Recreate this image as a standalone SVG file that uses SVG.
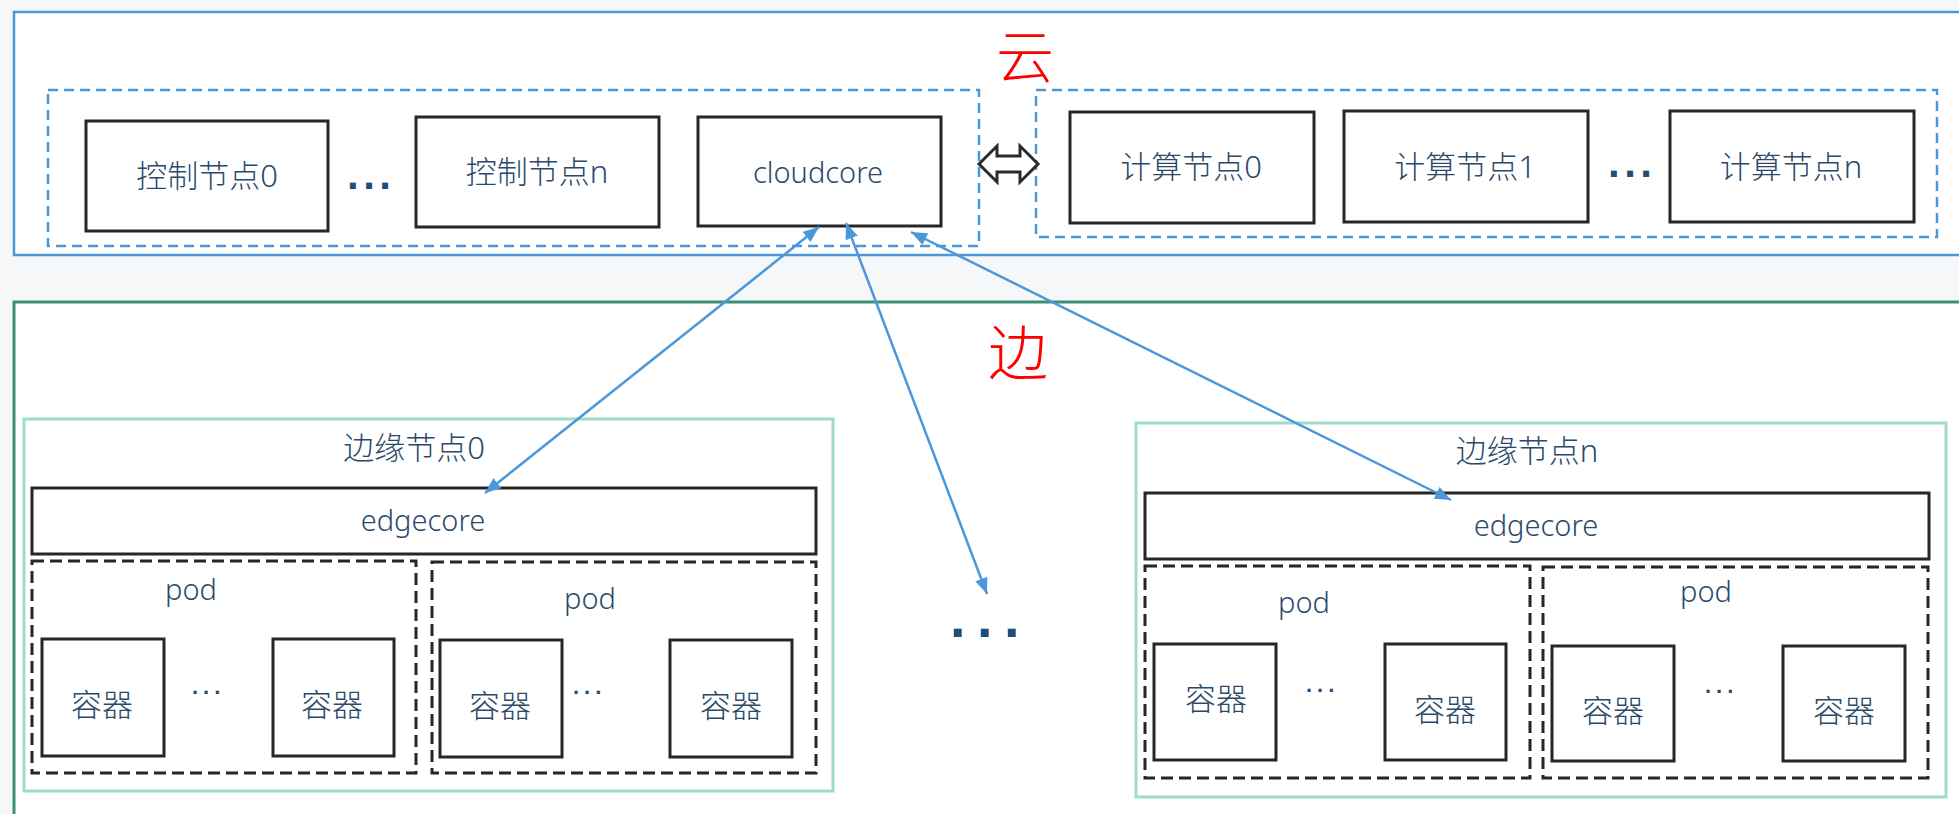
<svg xmlns="http://www.w3.org/2000/svg" width="1959" height="814" viewBox="0 0 1959 814">
  <style>
    .region-cloud { fill: #ffffff; stroke: #4a98d8; stroke-width: 2.5; }
    .region-edge { fill: #ffffff; stroke: #3b8f76; stroke-width: 3; }
    .zone { fill: none; stroke: #4a98d8; stroke-width: 2.5; stroke-dasharray: 10 6; }
    .box { fill: #ffffff; stroke: #262626; stroke-width: 3; }
    .edge-node { fill: #ffffff; stroke: #9edcc9; stroke-width: 3; }
    .pod { fill: none; stroke: #262626; stroke-width: 3; stroke-dasharray: 12 6; }
    .lbl { font-family: "Noto Sans", "Noto Sans CJK SC", sans-serif; fill: #2b4a6a; text-anchor: middle; font-weight: 300; }
    .cn { font-size: 31px; }
    .en { font-size: 29px; }
    .title { font-family: "Noto Sans CJK SC", sans-serif; fill: #ff0000; text-anchor: middle; font-weight: 300; }
    .dots { font-family: "Liberation Sans", sans-serif; font-weight: bold; fill: #1f4e79; }
    .link { fill: none; stroke: #4a98db; stroke-width: 2.5; marker-start: url(#tip); marker-end: url(#tip); }
    .biarrow { fill: #ffffff; stroke: #2a2a2a; stroke-width: 3; stroke-linejoin: miter; }
  </style>
  <defs>
    <marker id="tip" markerUnits="userSpaceOnUse" markerWidth="17" markerHeight="13" refX="16" refY="6.5" orient="auto-start-reverse">
      <path d="M0,0 L16,6.5 L0,13 Z" fill="#4a98db"/>
    </marker>
  </defs>

  <!-- page background -->
  <rect x="0" y="0" width="1959" height="814" fill="#f6f7f8"/>

  <!-- cloud side -->
  <g id="cloud">
    <rect class="region-cloud" x="14" y="12" width="1960" height="243"/>
    <text class="title" x="1025" y="78" font-size="58">云</text>
    <rect class="zone" x="48" y="90" width="931" height="156"/>
    <rect class="zone" x="1036" y="90" width="901" height="147"/>
  </g>

  <g id="control-node-0">
    <rect class="box" x="86" y="121" width="242" height="110"/>
    <text class="lbl cn" x="207" y="187">控制节点0</text>
  </g>
  <text class="dots" x="347" y="189" font-size="42" letter-spacing="4.5">...</text>
  <g id="control-node-n">
    <rect class="box" x="416" y="117" width="243" height="110"/>
    <text class="lbl cn" x="537" y="183">控制节点n</text>
  </g>
  <g id="cloudcore">
    <rect class="box" x="698" y="117" width="243" height="109"/>
    <text class="lbl en" x="818" y="183">cloudcore</text>
  </g>

  <g id="compute-node-0">
    <rect class="box" x="1070" y="112" width="244" height="111"/>
    <text class="lbl cn" x="1191" y="178">计算节点0</text>
  </g>
  <g id="compute-node-1">
    <rect class="box" x="1344" y="111" width="244" height="111"/>
    <text class="lbl cn" x="1465" y="178">计算节点1</text>
  </g>
  <text class="dots" x="1608" y="177" font-size="42" letter-spacing="4.5">...</text>
  <g id="compute-node-n">
    <rect class="box" x="1670" y="111" width="244" height="111"/>
    <text class="lbl cn" x="1791" y="178">计算节点n</text>
  </g>

  <!-- control plane and compute pool link -->
  <g id="pool-link">
    <polygon class="biarrow" points="979,164 997,146 997,156 1020,156 1020,146 1038,164 1020,182 1020,172 997,172 997,182"/>
  </g>

  <!-- edge side -->
  <g id="edge">
    <rect class="region-edge" x="14" y="302" width="1960" height="600"/>
    <text class="title" x="1018" y="375" font-size="60">边</text>
  </g>

  <g id="edge-node-0">
    <rect class="edge-node" x="24" y="419" width="809" height="372"/>
    <text class="lbl cn" x="414" y="459">边缘节点0</text>
    <rect class="box" x="32" y="488" width="784" height="66"/>
    <text class="lbl en" x="423" y="531">edgecore</text>
    <rect class="pod" x="32" y="561" width="384" height="212"/>
    <text class="lbl en" x="191" y="600">pod</text>
    <rect class="box" x="42" y="639" width="122" height="117"/>
    <text class="lbl cn" x="102" y="716">容器</text>
    <text class="dots" x="192" y="694" font-size="22" letter-spacing="5">...</text>
    <rect class="box" x="273" y="639" width="121" height="117"/>
    <text class="lbl cn" x="332" y="716">容器</text>
    <rect class="pod" x="432" y="562" width="384" height="211"/>
    <text class="lbl en" x="590" y="609">pod</text>
    <rect class="box" x="440" y="640" width="122" height="117"/>
    <text class="lbl cn" x="500" y="717">容器</text>
    <text class="dots" x="573" y="694" font-size="22" letter-spacing="5">...</text>
    <rect class="box" x="670" y="640" width="122" height="117"/>
    <text class="lbl cn" x="731" y="717">容器</text>
  </g>

  <text class="dots" x="950" y="637" font-size="56" letter-spacing="11.5">...</text>

  <g id="edge-node-n">
    <rect class="edge-node" x="1136" y="423" width="810" height="374"/>
    <text class="lbl cn" x="1527" y="462">边缘节点n</text>
    <rect class="box" x="1145" y="493" width="784" height="66"/>
    <text class="lbl en" x="1536" y="536">edgecore</text>
    <rect class="pod" x="1145" y="566" width="385" height="212"/>
    <text class="lbl en" x="1304" y="613">pod</text>
    <rect class="box" x="1154" y="644" width="122" height="116"/>
    <text class="lbl cn" x="1216" y="710">容器</text>
    <text class="dots" x="1306" y="692" font-size="22" letter-spacing="5">...</text>
    <rect class="box" x="1385" y="644" width="121" height="116"/>
    <text class="lbl cn" x="1445" y="721">容器</text>
    <rect class="pod" x="1543" y="567" width="385" height="211"/>
    <text class="lbl en" x="1706" y="602">pod</text>
    <rect class="box" x="1552" y="646" width="122" height="115"/>
    <text class="lbl cn" x="1613" y="722">容器</text>
    <text class="dots" x="1705" y="693" font-size="22" letter-spacing="5">...</text>
    <rect class="box" x="1783" y="646" width="122" height="115"/>
    <text class="lbl cn" x="1844" y="722">容器</text>
  </g>

  <!-- cloudcore to edgecore links -->
  <g id="connectors">
    <line class="link" x1="819" y1="227" x2="485" y2="493"/>
    <line class="link" x1="846" y1="223" x2="987" y2="594"/>
    <line class="link" x1="911" y1="232" x2="1451" y2="500"/>
  </g>
</svg>
